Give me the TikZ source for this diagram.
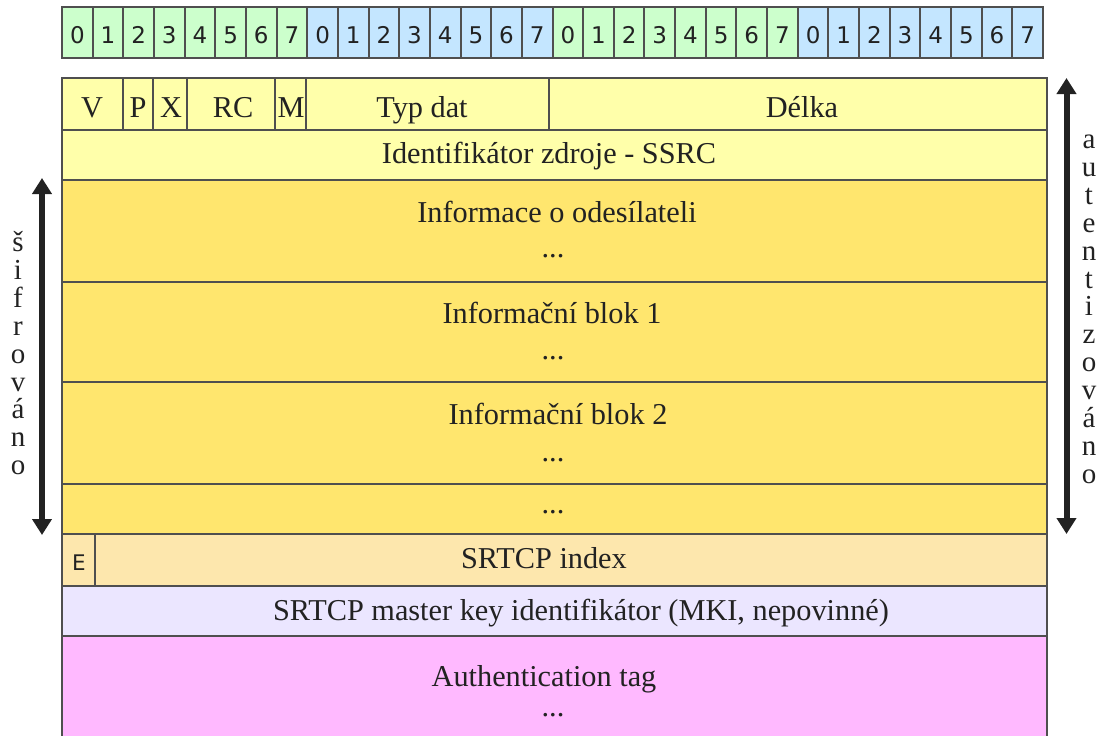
\documentclass[tikz,border=0pt]{standalone}
\usepackage{fontspec}
\setmainfont{Liberation Serif}
\newfontfamily\sansdig{DejaVu Sans}
\usetikzlibrary{arrows.meta}
\definecolor{bitg}{HTML}{CCFFCC}
\definecolor{bitb}{HTML}{C4E6FF}
\definecolor{hdr}{HTML}{FFFFAA}
\definecolor{blk}{HTML}{FFE66E}
\definecolor{idx}{HTML}{FDE7AD}
\definecolor{mki}{HTML}{EBE6FF}
\definecolor{auth}{HTML}{FFB9FF}
\definecolor{bord}{HTML}{4F4F4F}
\definecolor{ink}{HTML}{222222}
\begin{document}
\begin{tikzpicture}[x=1pt,y=-1pt,
  fld/.style={draw=bord, line width=2pt, anchor=north west, inner sep=0pt, outer sep=0pt},
  bitcell/.style={draw=bord, line width=2pt, anchor=base, inner xsep=0pt, inner ysep=0pt, outer sep=0pt,
    minimum width=30.656pt, text height=36.5pt, text depth=14.5pt, text=ink,
    font=\sansdig\fontsize{23}{27}\selectfont},
  txt/.style={anchor=base, inner sep=0pt, text=ink, font=\fontsize{30.3}{35}\selectfont},
  stxt/.style={anchor=base, inner sep=0pt, text=ink, font=\sansdig\fontsize{21.5}{25}\selectfont},
  vtxt/.style={anchor=base, inner sep=0pt, text=ink, font=\fontsize{29}{34}\selectfont},
  bigarrow/.style={draw=ink, line width=6pt, {Triangle[width=19pt,length=16pt]}-{Triangle[width=19pt,length=16pt]}}]
\useasboundingbox (0,0) rectangle (1101,736);
\clip (0,0) rectangle (1101,736);
% bit ruler
\foreach \i in {0,...,31}{
  \pgfmathtruncatemacro{\grp}{mod(floor(\i/8),2)}
  \pgfmathtruncatemacro{\dig}{mod(\i,8)}
  \ifnum\grp=0 \def\cc{bitg}\else\def\cc{bitb}\fi
  \node[bitcell, fill=\cc] (b\i) at ({62+30.656*\i+15.328},43.5) {\dig};
}
% header row
\node[fld, fill=hdr, minimum width=61pt, minimum height=52pt] (fV) at (62,78) {};
\node[fld, fill=hdr, minimum width=30pt, minimum height=52pt] (fP) at (123,78) {};
\node[fld, fill=hdr, minimum width=34pt, minimum height=52pt] (fX) at (153,78) {};
\node[fld, fill=hdr, minimum width=88pt, minimum height=52pt] (fRC) at (187,78) {};
\node[fld, fill=hdr, minimum width=31pt, minimum height=52pt] (fM) at (275,78) {};
\node[fld, fill=hdr, minimum width=243pt, minimum height=52pt] (fTyp) at (306,78) {};
\node[fld, fill=hdr, minimum width=498pt, minimum height=52pt] (fLen) at (549,78) {};
% rows
\node[fld, fill=hdr, minimum width=985pt, minimum height=50pt] (fSSRC) at (62,130) {};
\node[fld, fill=blk, minimum width=985pt, minimum height=102pt] (fInfo) at (62,180) {};
\node[fld, fill=blk, minimum width=985pt, minimum height=100pt] (fB1) at (62,282) {};
\node[fld, fill=blk, minimum width=985pt, minimum height=102pt] (fB2) at (62,382) {};
\node[fld, fill=blk, minimum width=985pt, minimum height=50pt] (fDots) at (62,484) {};
\node[fld, fill=idx, minimum width=33pt, minimum height=52pt] (fE) at (62,534) {};
\node[fld, fill=idx, minimum width=952pt, minimum height=52pt] (fIdx) at (95,534) {};
\node[fld, fill=mki, minimum width=985pt, minimum height=50pt] (fMKI) at (62,586) {};
\node[fld, fill=auth, minimum width=985pt, minimum height=115pt] (fAuth) at (62,636) {};
% texts
\node[txt] (tV) at (92,117) {V};
\node[txt] (tP) at (138,117) {P};
\node[txt] (tX) at (171,117) {X};
\node[txt] (tRC) at (233,117) {RC};
\node[txt] (tM) at (291,117) {M};
\node[txt] (tTyp) at (422,117) {Typ dat};
\node[txt] (tLen) at (802,117) {Délka};
\node[txt] (tSSRC) at (549,163.5) {Identifikátor zdroje - SSRC};
\node[txt] (tInfo) at (557,222.5) {Informace o odesílateli};
\node[txt] (dInfo) at (553,257) {...};
\node[txt] (tB1) at (552,323.5) {Informační blok 1};
\node[txt] (dB1) at (553,359) {...};
\node[txt] (tB2) at (558,424.5) {Informační blok 2};
\node[txt] (dB2) at (553,461) {...};
\node[txt] (dD) at (553,513) {...};
\node[stxt] (tE) at (79,570.7) {E};
\node[txt] (tIdx) at (544,568.5) {SRTCP index};
\node[txt] (tMKI) at (581,620) {SRTCP master key identifikátor (MKI, nepovinné)};
\node[txt] (tAuth) at (544,686.7) {Authentication tag};
\node[txt] (dAuth) at (553,716.5) {...};
% side arrows
\coordinate (lt) at (42,178);
\coordinate (lb) at (42,535);
\coordinate (rt) at (1066.5,78);
\coordinate (rb) at (1066.5,534);
\draw[bigarrow] (lt) -- (lb);
\draw[bigarrow] (rt) -- (rb);
\foreach \c [count=\k from 0] in {š,i,f,r,o,v,á,n,o}
  \node[vtxt] (s\k) at (18,{251.5+27.9*\k}) {\c};
\foreach \c [count=\k from 0] in {a,u,t,e,n,t,i,z,o,v,á,n,o}
  \node[vtxt] (a\k) at (1089,{148.5+27.9*\k}) {\c};
\end{tikzpicture}
\end{document}
